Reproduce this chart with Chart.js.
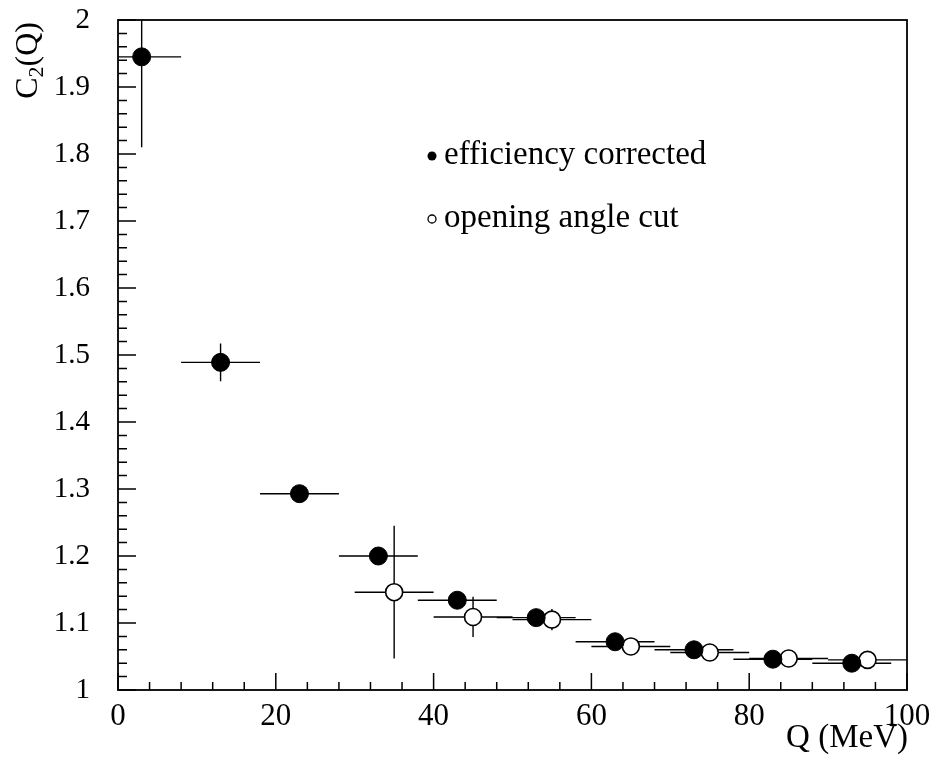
<!DOCTYPE html>
<html>
<head>
<meta charset="utf-8">
<title>C2(Q) correlation function</title>
<script src="https://cdn.jsdelivr.net/npm/chart.js@4.4.1/dist/chart.umd.min.js"></script>
<style>
    html, body { margin: 0; padding: 0; background: #fff; }
    #wrap { width: 935px; height: 757px; }
</style>
</head>
<body>
<div id="wrap"><canvas id="c2Chart" width="935" height="757"></canvas></div>
<script>
// C2(Q) vs Q, two selections, with bin-width and statistical error bars

// efficiency corrected (filled circles)
const qFilled = [3, 13, 23, 33, 43, 53, 63, 73, 83, 93];
const c2Filled = [1.945, 1.489, 1.293, 1.200, 1.134, 1.108, 1.072, 1.060, 1.046, 1.040];
const errFilled = [0.135, 0.028, 0.006, 0.006, 0.006, 0.005, 0.004, 0.004, 0.004, 0.004];

// opening angle cut (open circles)
const qOpen = [35, 45, 55, 65, 75, 85, 95];
const c2Open = [1.146, 1.109, 1.105, 1.065, 1.056, 1.047, 1.045];
const errOpen = [0.099, 0.030, 0.016, 0.005, 0.005, 0.004, 0.004];

// half bin width in Q (MeV)
const qHalfBin = 5;

// axis ranges and tick steps
const xRange = [0, 100];
const yRange = [1, 2];
const xMajorStep = 20, xMinorStep = 4;
const yMajorStep = 0.1, yMinorStep = 0.02;

const serif = "'Liberation Serif', 'DejaVu Serif', serif";

function stepValues(min, max, step) {
    const out = [];
    const n = Math.round((max - min) / step);
    for (let i = 0; i <= n; i++) out.push(+(min + i * step).toFixed(6));
    return out;
}

function isMajor(v, step) {
    const r = v / step;
    return Math.abs(r - Math.round(r)) < 1e-6;
}

function toPoints(xs, ys) {
    return xs.map((x, i) => ({ x: x, y: ys[i] }));
}

// error bars, frame, inward ticks and axis titles
const physicsFrame = {
    id: 'physicsFrame',
    beforeDatasetsDraw(chart) {
        const { ctx, chartArea, scales } = chart;
        const xs = scales.x, ys = scales.y;
        ctx.save();
        ctx.beginPath();
        ctx.rect(chartArea.left, chartArea.top, chartArea.right - chartArea.left, chartArea.bottom - chartArea.top);
        ctx.clip();
        ctx.strokeStyle = '#000';
        ctx.lineWidth = 1.4;
        const drawBars = (qs, vals, errs) => {
            qs.forEach((q, i) => {
                const px = xs.getPixelForValue(q);
                const py = ys.getPixelForValue(vals[i]);
                ctx.beginPath();
                ctx.moveTo(xs.getPixelForValue(q - qHalfBin), py);
                ctx.lineTo(xs.getPixelForValue(q + qHalfBin), py);
                ctx.moveTo(px, ys.getPixelForValue(vals[i] - errs[i]));
                ctx.lineTo(px, ys.getPixelForValue(vals[i] + errs[i]));
                ctx.stroke();
            });
        };
        drawBars(qFilled, c2Filled, errFilled);
        drawBars(qOpen, c2Open, errOpen);
        ctx.restore();
    },
    afterDraw(chart) {
        const { ctx, chartArea, scales } = chart;
        const { left, right, top, bottom } = chartArea;
        ctx.save();
        ctx.strokeStyle = '#000';

        // frame
        ctx.lineWidth = 1.8;
        ctx.strokeRect(left, top, right - left, bottom - top);

        // inward ticks on the bottom and left axes
        ctx.lineWidth = 1.5;
        ctx.beginPath();
        scales.x.ticks.forEach(t => {
            const px = scales.x.getPixelForValue(t.value);
            const len = isMajor(t.value, xMajorStep) ? 17 : 8;
            ctx.moveTo(px, bottom);
            ctx.lineTo(px, bottom - len);
        });
        scales.y.ticks.forEach(t => {
            const py = scales.y.getPixelForValue(t.value);
            const len = isMajor(t.value - yRange[0], yMajorStep) ? 18 : 9;
            ctx.moveTo(left, py);
            ctx.lineTo(left + len, py);
        });
        ctx.stroke();

        // x title
        ctx.fillStyle = '#000';
        ctx.font = '33px ' + serif;
        ctx.textAlign = 'right';
        ctx.textBaseline = 'alphabetic';
        ctx.fillText('Q (MeV)', right + 1, 747);

        // y title, rotated, with subscript
        ctx.translate(37, top + 2);
        ctx.rotate(-Math.PI / 2);
        ctx.textAlign = 'left';
        const big = '32px ' + serif, small = '22px ' + serif;
        ctx.font = big;
        const wC = ctx.measureText('C').width;
        const wQ = ctx.measureText('(Q)').width;
        ctx.font = small;
        const w2 = ctx.measureText('2').width;
        let x0 = -(wC + w2 + wQ);
        ctx.font = big;
        ctx.fillText('C', x0, 0);
        ctx.font = small;
        ctx.fillText('2', x0 + wC, 6);
        ctx.font = big;
        ctx.fillText('(Q)', x0 + wC + w2, 0);
        ctx.restore();
    }
};

const ctx = document.getElementById('c2Chart');

new Chart(ctx, {
    type: 'scatter',
    data: {
        datasets: [
            {
                label: 'efficiency corrected',
                data: toPoints(qFilled, c2Filled),
                pointRadius: 9,
                pointBackgroundColor: '#000',
                pointBorderColor: '#000',
                pointBorderWidth: 1
            },
            {
                label: 'opening angle cut',
                data: toPoints(qOpen, c2Open),
                pointRadius: 8.5,
                pointBackgroundColor: '#fff',
                pointBorderColor: '#000',
                pointBorderWidth: 1.6
            }
        ]
    },
    options: {
        responsive: false,
        animation: false,
        events: [],
        layout: {
            padding: { top: 20, right: 28, left: 0, bottom: 0 }
        },
        plugins: {
            legend: { display: false },
            tooltip: { enabled: false }
        },
        scales: {
            x: {
                type: 'linear',
                min: xRange[0],
                max: xRange[1],
                afterBuildTicks: s => { s.ticks = stepValues(xRange[0], xRange[1], xMinorStep).map(v => ({ value: v })); },
                afterFit: s => { s.height = 67; s.paddingLeft = 0; s.paddingRight = 0; },
                grid: { display: false, drawTicks: false },
                border: { display: false },
                ticks: {
                    autoSkip: false,
                    maxRotation: 0,
                    padding: 8,
                    color: '#000',
                    font: { family: serif, size: 31 },
                    callback: v => isMajor(v, xMajorStep) ? String(v) : ''
                }
            },
            y: {
                type: 'linear',
                min: yRange[0],
                max: yRange[1],
                afterBuildTicks: s => { s.ticks = stepValues(yRange[0], yRange[1], yMinorStep).map(v => ({ value: v })); },
                afterFit: s => { s.width = 118; s.paddingTop = 0; s.paddingBottom = 0; },
                grid: { display: false, drawTicks: false },
                border: { display: false },
                ticks: {
                    autoSkip: false,
                    padding: 28,
                    color: '#000',
                    font: { family: serif, size: 29 },
                    callback: v => isMajor(v - yRange[0], yMajorStep) ? String(+v.toFixed(1)) : ''
                }
            }
        }
    },
    plugins: [physicsFrame, {
        // in-plot legend text
        id: 'inlineLegend',
        afterDraw(chart) {
            const c = chart.ctx;
            c.save();
            c.font = '33px ' + serif;
            c.fillStyle = '#000';
            c.textBaseline = 'middle';
            c.textAlign = 'left';
            c.beginPath();
            c.arc(432, 156, 4.5, 0, Math.PI * 2);
            c.fill();
            c.fillText('efficiency corrected', 444, 155);
            c.beginPath();
            c.arc(432, 219, 4, 0, Math.PI * 2);
            c.lineWidth = 1.3;
            c.strokeStyle = '#000';
            c.stroke();
            c.fillText('opening angle cut', 444, 218);
            c.restore();
        }
    }]
});
</script>
</body>
</html>
